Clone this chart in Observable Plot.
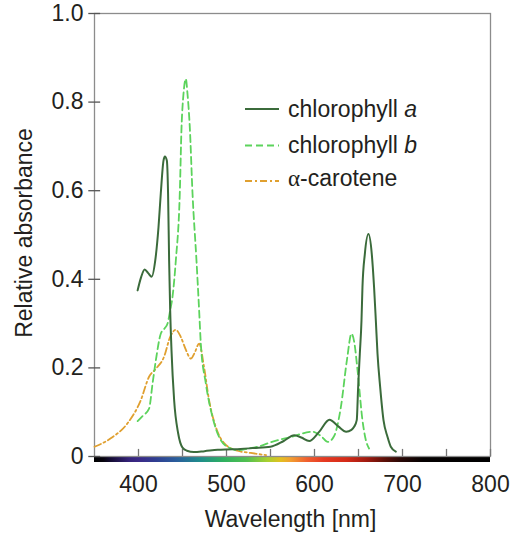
<!DOCTYPE html>
<html><head><meta charset="utf-8">
<script src="https://cdn.jsdelivr.net/npm/d3@7"></script>
<script src="https://cdn.jsdelivr.net/npm/@observablehq/plot@0.6"></script>
<style>
body{margin:0;background:#fff;}
#chart{width:512px;height:536px;}
</style></head><body><div id="chart"></div>
<script>
// --- data ---
const chlA_wl  = [399,403,407,411,415,419,422.7,425.3,428.4,430,432.2,433.6,434.8,436,437.5,440.5,445,450,455,463,475,490,500,516,530,550,565,577,585,594,605,617,627,636,642,645,648,649.6,651.5,653.4,654.5,657.2,661.3,665.1,667.7,669.7,671.6,674.6,678.4,683,686.7,692.4];
const chlA_abs = [0.375,0.405,0.422,0.414,0.406,0.442,0.517,0.593,0.668,0.677,0.668,0.593,0.442,0.33,0.24,0.127,0.053,0.02,0.013,0.01,0.012,0.015,0.016,0.017,0.019,0.022,0.035,0.048,0.043,0.035,0.055,0.083,0.068,0.056,0.06,0.067,0.082,0.157,0.232,0.307,0.382,0.457,0.502,0.457,0.382,0.307,0.232,0.157,0.082,0.044,0.022,0.011];

const chlB_wl  = [399,405,412,416,419.7,425.3,430,433,436,438.6,442.4,446.9,448.9,451.1,453.8,455.7,458.3,461.4,465.9,468.9,470.8,476.5,484,493.5,505,512.5,525,539,550,573,598,608,615,622,630,637,642,645,648.9,654.5,658,662];
const chlB_abs = [0.08,0.092,0.108,0.165,0.217,0.277,0.29,0.3,0.33,0.36,0.442,0.593,0.743,0.818,0.852,0.818,0.743,0.593,0.442,0.33,0.255,0.165,0.09,0.037,0.018,0.014,0.018,0.024,0.032,0.044,0.056,0.045,0.033,0.045,0.112,0.22,0.277,0.26,0.195,0.082,0.04,0.018];

const car_wl  = [350,368.5,387.5,402.6,412,419.7,429,436,442.4,448,454,459.4,464,468.9,474.5,480.2,487.8,497.3,512.5,527.6,545];
const car_abs = [0.022,0.041,0.075,0.127,0.18,0.198,0.225,0.27,0.286,0.27,0.24,0.221,0.235,0.255,0.202,0.127,0.067,0.03,0.013,0.008,0.003];

const xDomain = [350, 800];
const yDomain = [0, 1];
const xTickMarks = [400,450,500,550,600,650,700,750,800];
const xTickLabels = [400,500,600,700,800];
const yTicks = [0,0.2,0.4,0.6,0.8,1.0];

const spectrumWl    = [350,361,369,390,402,421,444,470,497,524,547,562,573,592,611,637,660,679,698,724,800];
const spectrumColor = ["#000000","#07040f","#140c34","#35237a","#3a2a88","#2f3f92","#2a5e9c","#1f8c8c","#2eb060","#52c050","#a8d030","#e2c020","#f2a030","#f06030","#e63a22","#d42a18","#a01a10","#601008","#2a0806","#050101","#000000"];

const seriesNames = ["chlorophyll a","chlorophyll b","α-carotene"];
const seriesColors = ["#3b6b3b","#5cd35c","#e0a030"];
const seriesDash = [null,"7,4","7,3,2,3"];

const font = "'Liberation Sans', Arial, sans-serif";
const fs = 23;

const toRows = (w, a) => w.map((d, i) => ({wl: d, abs: a[i]}));
const rowsA = toRows(chlA_wl, chlA_abs);
const rowsB = toRows(chlB_wl, chlB_abs);
const rowsC = toRows(car_wl, car_abs);

const chart = Plot.plot({
  width: 512, height: 536,
  marginLeft: 94, marginRight: 22, marginTop: 13, marginBottom: 80,
  style: {fontFamily: font, color: "#231f20", background: "#fff", overflow: "visible"},
  x: {domain: xDomain},
  y: {domain: yDomain},
  marks: [
    Plot.rect([xDomain], {x1: d => d[0], x2: d => d[1], y1: () => 0, y2: () => 0, insetTop: 1, insetBottom: -6, fill: "url(#spectrum)"}),
    Plot.frame({stroke: "#8c8c8c", strokeWidth: 1.3}),
    Plot.ruleX(xTickMarks, {x: d => d, y1: () => 0, y2: () => 0.016, stroke: "#777", strokeWidth: 1.3}),
    Plot.ruleY(yTicks, {y: d => d, x1: () => 343.5, x2: () => 357, stroke: "#555", strokeWidth: 1.3}),
    Plot.axisX({ticks: xTickLabels, tickSize: 0, tickPadding: 19, fontSize: fs, tickFormat: d => String(d), label: null}),
    Plot.axisY({ticks: yTicks, tickSize: 0, tickPadding: 11, fontSize: fs, tickFormat: d => d === 0 ? "0" : d.toFixed(1), label: null}),
    Plot.text(["Wavelength [nm]"], {frameAnchor: "bottom", dy: 63.5, dx: -2, fontSize: fs, textAnchor: "middle", lineAnchor: "middle", text: d => d}),
    Plot.text(["Relative absorbance"], {frameAnchor: "left", dx: -70, dy: -2, rotate: -90, fontSize: fs, textAnchor: "middle", lineAnchor: "middle", text: d => d}),
    Plot.line(rowsC, {x: "wl", y: "abs", stroke: seriesColors[2], strokeWidth: 1.8, strokeDasharray: seriesDash[2], curve: "monotone-x"}),
    Plot.line(rowsB, {x: "wl", y: "abs", stroke: seriesColors[1], strokeWidth: 1.8, strokeDasharray: seriesDash[1], curve: "monotone-x"}),
    Plot.line(rowsA, {x: "wl", y: "abs", stroke: seriesColors[0], strokeWidth: 2, curve: "monotone-x"})
  ]
});

// spectrum gradient definition, offsets from the wavelength stops
const svg = d3.select(chart);
const grad = svg.insert("defs", ":first-child").append("linearGradient")
  .attr("id", "spectrum").attr("x1", "0").attr("x2", "1").attr("y1", "0").attr("y2", "0");
spectrumWl.forEach((w, i) => {
  grad.append("stop")
    .attr("offset", (w - xDomain[0]) / (xDomain[1] - xDomain[0]))
    .attr("stop-color", spectrumColor[i]);
});

// legend inside the plot
const lg = svg.append("g").attr("font-family", font).attr("font-size", fs)
  .attr("fill", "#231f20").attr("text-anchor", "start");
const lineYs = [109, 145.5, 181];
const baseYs = [116.5, 153.3, 185.5];
seriesNames.forEach((name, i) => {
  lg.append("line").attr("x1", 245).attr("x2", 279).attr("y1", lineYs[i]).attr("y2", lineYs[i])
    .attr("stroke", seriesColors[i]).attr("stroke-width", i === 0 ? 2 : 1.8)
    .attr("stroke-dasharray", seriesDash[i]);
  const t = lg.append("text").attr("x", 288).attr("y", baseYs[i]);
  if (i < 2) {
    const parts = name.split(" ");
    t.append("tspan").text(parts[0] + " ");
    t.append("tspan").attr("font-style", "italic").text(parts[1]);
  } else {
    t.append("tspan").attr("font-family", "'Liberation Serif', 'DejaVu Serif', serif").text(name[0]);
    t.append("tspan").text(name.slice(1));
  }
});

document.getElementById("chart").appendChild(chart);
</script>
</body></html>
